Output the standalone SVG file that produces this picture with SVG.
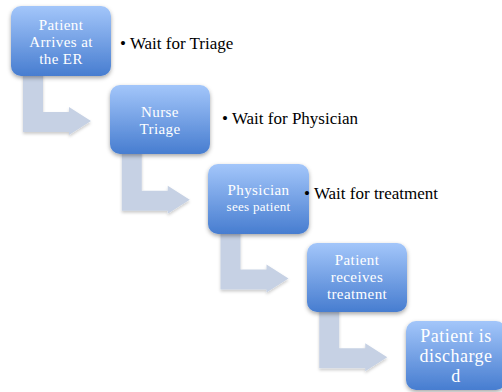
<svg xmlns="http://www.w3.org/2000/svg" xmlns:xlink="http://www.w3.org/1999/xlink" width="502" height="392" viewBox="0 0 502 392">
<defs>
<linearGradient id="bg" x1="0" y1="0" x2="0" y2="1">
<stop offset="0" stop-color="#a3c6fa"/>
<stop offset="1" stop-color="#477dd0"/>
</linearGradient>
<filter id="sh" x="-20%" y="-20%" width="140%" height="150%">
<feDropShadow dx="0" dy="2" stdDeviation="2" flood-color="#000" flood-opacity="0.35"/>
</filter>
<filter id="ash" x="-20%" y="-20%" width="140%" height="150%">
<feDropShadow dx="0" dy="2" stdDeviation="1.5" flood-color="#000" flood-opacity="0.2"/>
</filter>
<path id="arr" d="M23,70 L43,70 L43,112 L69,112 L69,107 L91,121 L69,135 L69,132 L23,132 Z"/>
</defs>
<style>
.box{fill:url(#bg);filter:url(#sh)}
.arrow{fill:#c6d1e4;filter:url(#ash)}
.bt{fill:#fff;font-family:"Liberation Serif",serif;font-size:15px;letter-spacing:0.4px;text-anchor:middle}
.big{font-size:18px;letter-spacing:0.5px}
.lb{fill:#000;font-family:"Liberation Serif",serif;font-size:17px}
</style>
<rect width="502" height="392" fill="#fff"/>
<g id="connectors">
<use xlink:href="#arr" class="arrow"/>
<use xlink:href="#arr" class="arrow" transform="translate(98.75,78.75)"/>
<use xlink:href="#arr" class="arrow" transform="translate(197.5,157.5)"/>
<use xlink:href="#arr" class="arrow" transform="translate(296.25,236.25)"/>
</g>
<g id="n1">
<rect class="box" x="11" y="6" width="100" height="70" rx="10"/>
<text class="bt" x="61" y="30">Patient</text>
<text class="bt" x="61" y="47">Arrives at</text>
<text class="bt" x="61" y="64">the ER</text>
</g>
<g id="n2">
<rect class="box" x="110" y="85" width="100" height="69" rx="10"/>
<text class="bt" x="160" y="117">Nurse</text>
<text class="bt" x="160" y="134">Triage</text>
</g>
<g id="n3">
<rect class="box" x="208" y="164" width="101" height="70" rx="10"/>
<text class="bt" x="258.5" y="195">Physician</text>
<text class="bt" x="258.5" y="211" style="font-size:13px;letter-spacing:0.3px">sees patient</text>
</g>
<g id="n4">
<rect class="box" x="307" y="243" width="100" height="69" rx="10"/>
<text class="bt" x="357" y="265">Patient</text>
<text class="bt" x="357" y="282">receives</text>
<text class="bt" x="357" y="299">treatment</text>
</g>
<g id="n5">
<rect class="box" x="406" y="321" width="100" height="69" rx="10"/>
<text class="bt big" x="456" y="342">Patient is</text>
<text class="bt big" x="456" y="362">discharge</text>
<text class="bt big" x="456" y="382">d</text>
</g>
<g id="labels">
<text class="lb" x="120" y="48.5">• Wait for Triage</text>
<text class="lb" x="222" y="123.5">• Wait for Physician</text>
<text class="lb" x="304" y="198.5">• Wait for treatment</text>
</g>
</svg>
